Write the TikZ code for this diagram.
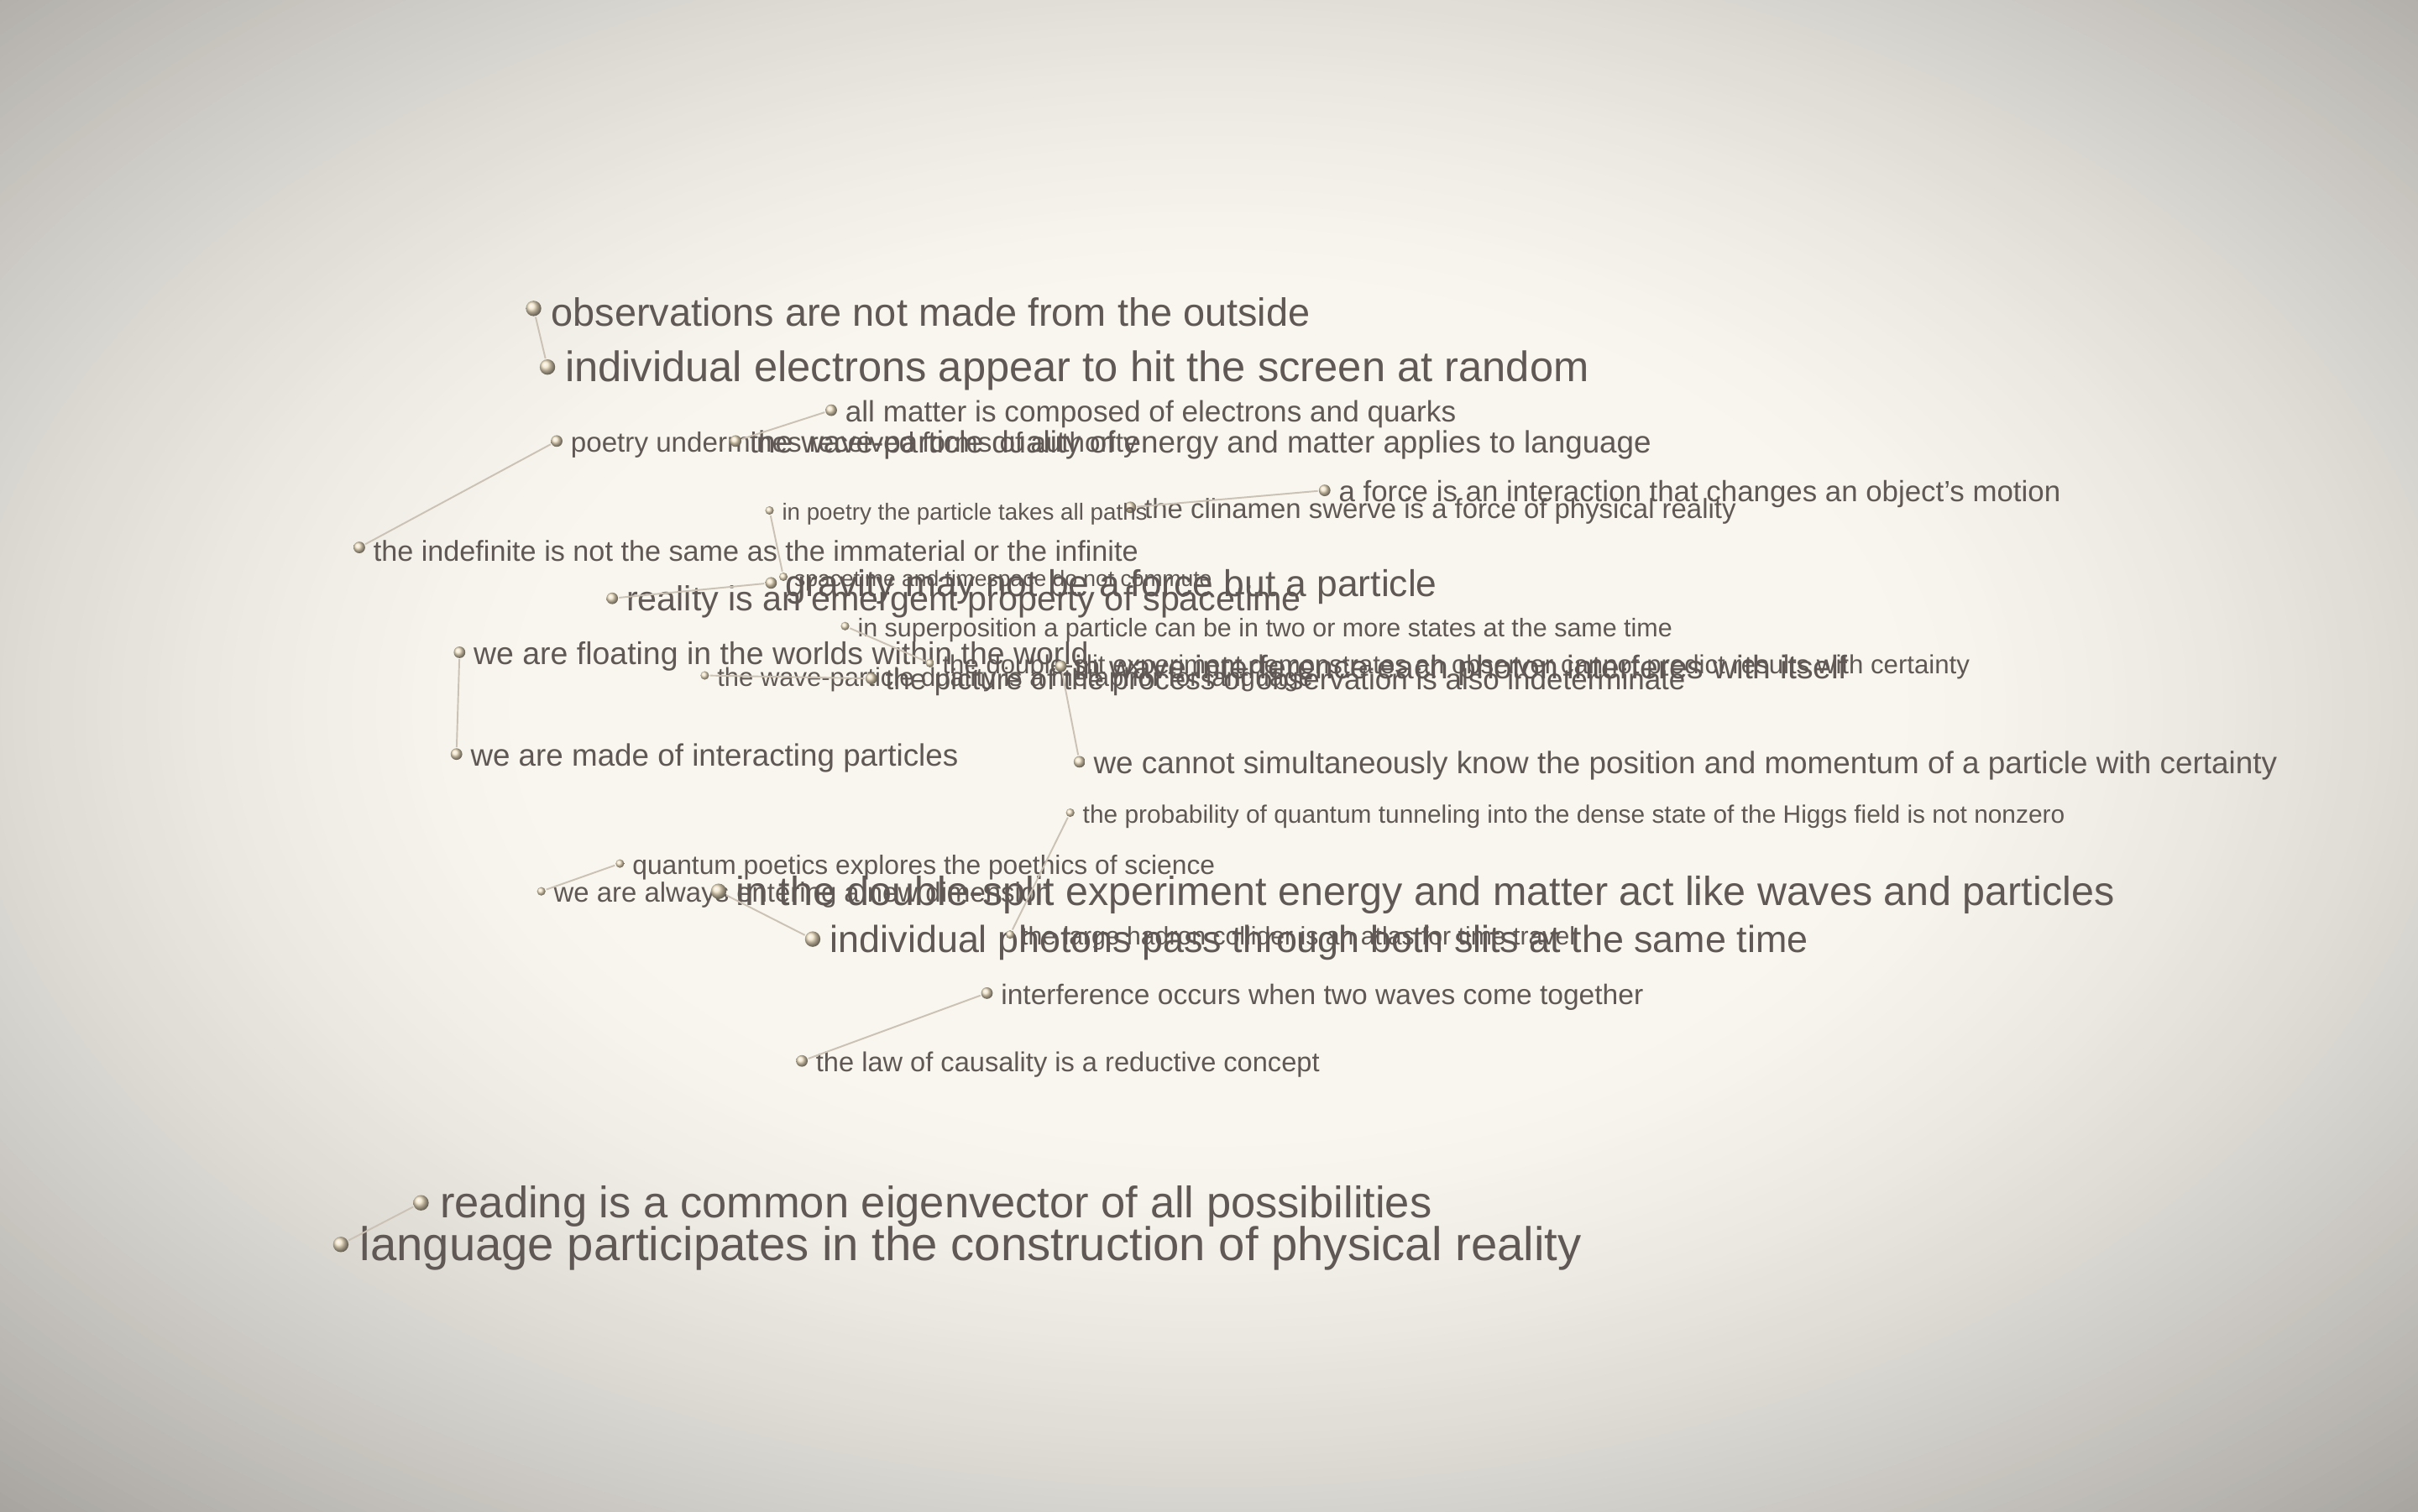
\documentclass[tikz,border=0pt]{standalone}
\usepackage{fontspec}
\setmainfont{Liberation Sans}
\usepackage{xcolor}
\usepackage{tikz}
\usetikzlibrary{positioning,calc}

\definecolor{txt}{HTML}{5F5854}
\definecolor{edge}{HTML}{CBC2B5}
\definecolor{bead}{HTML}{EFE0C2}
\definecolor{bgin}{HTML}{F8F6EE}
\definecolor{bgout}{HTML}{A8A5A1}

\newcommand{\fsz}[1]{\fontsize{#1}{#1}\selectfont}

\tikzset{
  bead/.style={circle, shading=ball, ball color=bead, inner sep=0pt, minimum size=0.075cm},
  bigbead/.style={bead, minimum size=0.1cm},
  smallbead/.style={bead, minimum size=0.055cm},
  idea/.style={anchor=west, inner sep=0pt, text=txt, yshift=-0.25mm},
  link/.style={draw=edge, line width=0.3pt}
}

\begin{document}
\begin{tikzpicture}
	\useasboundingbox (0,0) rectangle (15.68,-9.80);
	\clip (0,0) rectangle (15.68,-9.80);
	% vignette
	\fill[bgout] (0,0) rectangle (15.68,-9.80);
	\foreach \r in {1.46,1.45,...,0.54} {
		\pgfmathsetmacro{\p}{100*(1-(max(0,(\r-0.55)/0.91))^1.5)}
		\fill[bgin!\p!bgout] (7.84,-4.6) ellipse ({7.84*\r} and {4.9*\r});
	}

	% upper cluster
	\node[bigbead] (obs) at (3.46,-2.00) {};
	\node[idea, font=\fsz{7.26}, right=0.05 of obs] (obs-t) {observations are not made from the outside};
	\node[bigbead] (elec) at (3.55,-2.38) {};
	\node[idea, font=\fsz{7.85}, right=0.05 of elec] (elec-t) {individual electrons appear to hit the screen at random};
	\node[bead] (matter) at (5.39,-2.66) {};
	\node[idea, font=\fsz{5.45}, right=0.04 of matter] (matter-t) {all matter is composed of electrons and quarks};
	\node[bead] (poetry) at (3.61,-2.86) {};
	\node[idea, font=\fsz{5.14}, right=0.04 of poetry] (poetry-t) {poetry undermines received forms of authority};
	\node[bead] (wavelang) at (4.77,-2.86) {};
	\node[idea, font=\fsz{5.7}, right=0.04 of wavelang] (wavelang-t) {the wave-particle duality of energy and matter applies to language};
	\node[bead] (force) at (8.59,-3.18) {};
	\node[idea, font=\fsz{5.4}, right=0.04 of force] (force-t) {a force is an interaction that changes an object's motion};
	\node[bead] (swerve) at (7.33,-3.29) {};
	\node[idea, font=\fsz{5.1}, right=0.04 of swerve] (swerve-t) {the clinamen swerve is a force of physical reality};
	\node[smallbead] (paths) at (4.99,-3.31) {};
	\node[idea, font=\fsz{4.3}, right=0.04 of paths] (paths-t) {in poetry the particle takes all paths};
	\node[bead] (indef) at (2.33,-3.55) {};
	\node[idea, font=\fsz{5.3}, right=0.04 of indef] (indef-t) {the indefinite is not the same as the immaterial or the infinite};
	\node[smallbead] (commute) at (5.08,-3.74) {};
	\node[idea, font=\fsz{4.1}, right=0.03 of commute] (commute-t) {spacetime and timespace do not commute};
	\node[bead] (gravity) at (5.00,-3.78) {};
	\node[idea, font=\fsz{6.87}, right=0.04 of gravity] (gravity-t) {gravity may not be a force but a particle};
	\node[bead] (reality) at (3.97,-3.88) {};
	\node[idea, font=\fsz{6.4}, right=0.04 of reality] (reality-t) {reality is an emergent property of spacetime};

	% middle cluster
	\node[smallbead] (superpos) at (5.48,-4.06) {};
	\node[idea, font=\fsz{4.72}, right=0.04 of superpos] (superpos-t) {in superposition a particle can be in two or more states at the same time};
	\node[bead] (floating) at (2.98,-4.23) {};
	\node[idea, font=\fsz{5.8}, right=0.04 of floating] (floating-t) {we are floating in the worlds within the world};
	\node[smallbead] (slit) at (6.03,-4.30) {};
	\node[idea, font=\fsz{4.83}, right=0.04 of slit] (slit-t) {the double-slit experiment demonstrates an observer cannot predict results with certainty};
	\node[bead] (itself) at (6.88,-4.32) {};
	\node[idea, font=\fsz{6.05}, right=0.04 of itself] (itself-t) {in wave interference each photon interferes with itself};
	\node[smallbead] (metaphor) at (4.57,-4.38) {};
	\node[idea, font=\fsz{4.8}, right=0.04 of metaphor] (metaphor-t) {the wave-particle duality is a metaphor for language};
	\node[bead] (picture) at (5.65,-4.40) {};
	\node[idea, font=\fsz{5.42}, right=0.04 of picture] (picture-t) {the picture of the process of observation is also indeterminate};
	\node[bead] (made) at (2.96,-4.89) {};
	\node[idea, font=\fsz{5.7}, right=0.04 of made] (made-t) {we are made of interacting particles};
	\node[bead] (cannot) at (7.00,-4.94) {};
	\node[idea, font=\fsz{5.71}, right=0.04 of cannot] (cannot-t) {we cannot simultaneously know the position and momentum of a particle with certainty};
	\node[smallbead] (tunnel) at (6.94,-5.27) {};
	\node[idea, font=\fsz{4.63}, right=0.04 of tunnel] (tunnel-t) {the probability of quantum tunneling into the dense state of the Higgs field is not nonzero};

	% lower cluster
	\node[smallbead] (poethics) at (4.02,-5.60) {};
	\node[idea, font=\fsz{4.92}, right=0.04 of poethics] (poethics-t) {quantum poetics explores the poethics of science};
	\node[smallbead] (always) at (3.51,-5.78) {};
	\node[idea, font=\fsz{5.1}, right=0.04 of always] (always-t) {we are always entering a new dimension};
	\node[bigbead] (split) at (4.66,-5.78) {};
	\node[idea, font=\fsz{7.5}, right=0.05 of split] (split-t) {in the double-split experiment energy and matter act like waves and particles};
	\node[bigbead] (photons) at (5.27,-6.09) {};
	\node[idea, font=\fsz{6.95}, right=0.05 of photons] (photons-t) {individual photons pass through both slits at the same time};
	\node[smallbead] (hadron) at (6.55,-6.06) {};
	\node[idea, font=\fsz{4.68}, right=0.03 of hadron] (hadron-t) {the large hadron collider is an atlas for time travel};
	\node[bead] (interf) at (6.40,-6.44) {};
	\node[idea, font=\fsz{5.2}, right=0.04 of interf] (interf-t) {interference occurs when two waves come together};
	\node[bead] (causal) at (5.20,-6.88) {};
	\node[idea, font=\fsz{5.05}, right=0.04 of causal] (causal-t) {the law of causality is a reductive concept};
	\node[bigbead] (reading) at (2.73,-7.80) {};
	\node[idea, font=\fsz{8.13}, right=0.06 of reading] (reading-t) {reading is a common eigenvector of all possibilities};
	\node[bigbead] (lang) at (2.21,-8.07) {};
	\node[idea, font=\fsz{8.72}, right=0.06 of lang] (lang-t) {language participates in the construction of physical reality};

	\draw[link] (obs) -- (elec);
	\draw[link] (matter) -- (wavelang);
	\draw[link] (poetry) -- (indef);
	\draw[link] (force) -- (swerve);
	\draw[link] (paths) -- (commute);
	\draw[link] (reality) -- (gravity);
	\draw[link] (superpos) -- (slit);
	\draw[link] (floating) -- (made);
	\draw[link] (metaphor) -- (picture);
	\draw[link] (itself) -- (cannot);
	\draw[link] (tunnel) -- (hadron);
	\draw[link] (poethics) -- (always);
	\draw[link] (split) -- (photons);
	\draw[link] (interf) -- (causal);
	\draw[link] (reading) -- (lang);
\end{tikzpicture}
\end{document}
